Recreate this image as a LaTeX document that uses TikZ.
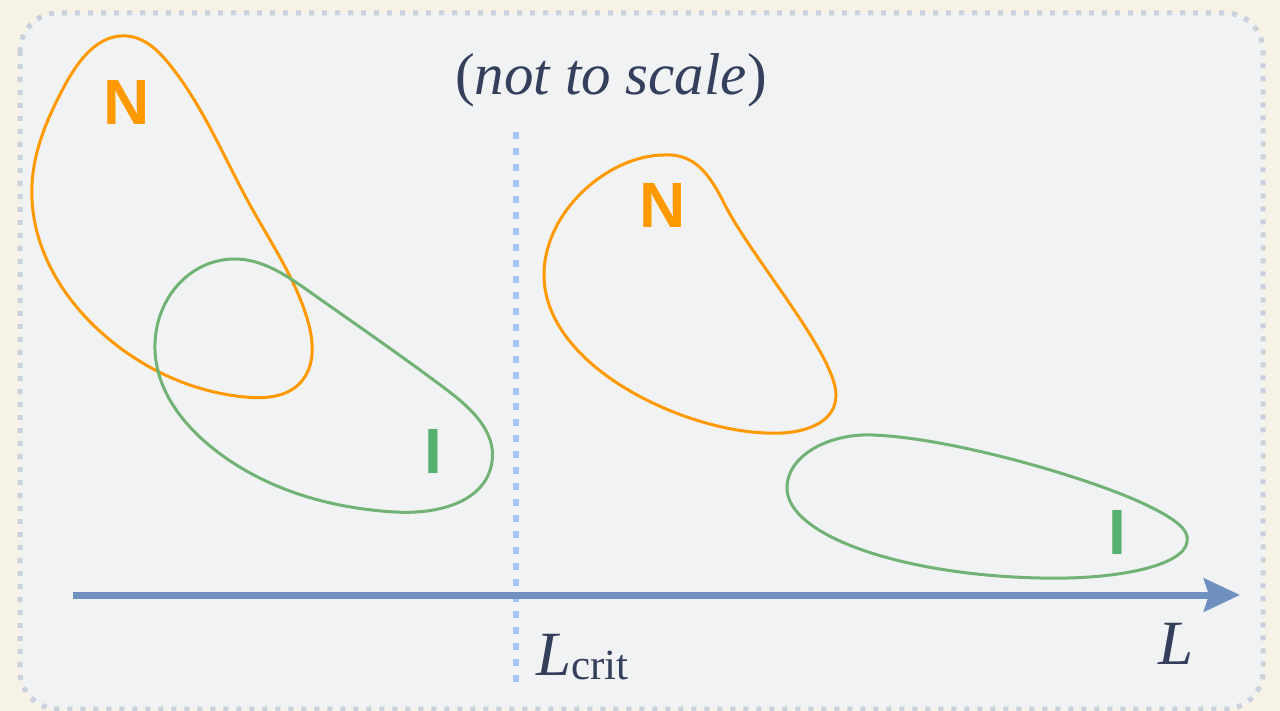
\documentclass[tikz,border=0pt]{standalone}
\usepackage{fontspec}
\setmainfont{Liberation Serif}
\newfontfamily\lblfont{Liberation Sans}
\usetikzlibrary{arrows.meta,hobby}
\definecolor{cream}{HTML}{F6F2E6}
\definecolor{panel}{HTML}{F0F2F4}
\definecolor{panelborder}{HTML}{C9D1DC}
\definecolor{nOrange}{HTML}{FF9900}
\definecolor{iGreen}{HTML}{72B274}
\definecolor{iText}{HTML}{57B16E}
\definecolor{critBlue}{HTML}{A4C5F5}
\definecolor{axisBlue}{HTML}{7090BF}
\definecolor{ink}{HTML}{343F5C}
\tikzset{
  nline/.style={draw=nOrange, line width=3pt},
  iline/.style={draw=iGreen, line width=3pt},
  nblob/.style={nline, use Hobby shortcut, closed=true},
  iblob/.style={iline, use Hobby shortcut, closed=true},
  setlbl/.style={inner sep=0pt, anchor=base, font=\lblfont\bfseries\fontsize{64}{64}\selectfont},
  txt/.style={inner sep=0pt, text=ink},
}
\begin{document}
\begin{tikzpicture}[x=1pt,y=-1pt]
\useasboundingbox (0,0) rectangle (1280,711);
\fill[cream] (0,0) rectangle (1280,711);
\draw[panelborder, fill=panel, line width=5pt, dash pattern=on 5pt off 8pt, rounded corners=38pt] (20,13) rectangle (1263,709);

% left N blob
\draw[nblob] (32,185) .. (65,85) .. (127,36) .. (170,65) .. (250,205) .. (307,318)
 .. (300,383) .. (245,397) .. (110,340);
% left I blob
\draw[iblob] (155,350) .. (233,259) .. (310,292) .. (447,390) .. (492,462)
 .. (395,512) .. (215,450);
% right N blob
\draw[nline] (664,155) .. controls (695,153) and (710,175) .. (725,205)
 .. controls (752,258) and (836,355) .. (836,395)
 .. controls (836,425) and (800,435) .. (766,433)
 .. controls (680,430) and (544,365) .. (544,275)
 .. controls (544,210) and (610,155) .. cycle;
% right I blob
\draw[iline] (787,488) .. controls (787,455) and (830,433) .. (873,435)
 .. controls (950,438) and (1080,475) .. (1140,502)
 .. controls (1175,518) and (1190,530) .. (1187,542)
 .. controls (1184,565) and (1120,580) .. (1040,578)
 .. controls (900,575) and (787,535) .. cycle;

\node[setlbl, text=nOrange] (n1) at (127,125) {N};
\node[setlbl, text=iText] (i1) at (433,473) {I};
\node[setlbl, text=nOrange] (n2) at (663,228) {N};
\node[setlbl, text=iText] (i2) at (1117,554) {I};

% critical line
\coordinate (ctop) at (516,132);
\coordinate (cbot) at (516,683);
\draw[critBlue, line width=6pt, dash pattern=on 7pt off 8.97pt] (ctop) -- (cbot);

% axis
\coordinate (ax0) at (73,595);
\coordinate (ax1) at (1240,595);
\draw[axisBlue, line width=7pt, -{Stealth[length=36pt, width=33pt, inset=5pt]}] (ax0) -- (ax1);

\node[txt, anchor=base, font=\fontsize{59}{59}\selectfont] (title) at (611,95) {(\textit{not to scale})};
\node[txt, anchor=base west, font=\fontsize{63}{63}\selectfont] (lab) at (1158,664) {\textit{L}};
\node[txt, anchor=base west, font=\fontsize{63}{63}\selectfont] (crit) at (536,675) {\textit{L}\raisebox{-4pt}{\fontsize{43}{43}\selectfont crit}};
\end{tikzpicture}
\end{document}
